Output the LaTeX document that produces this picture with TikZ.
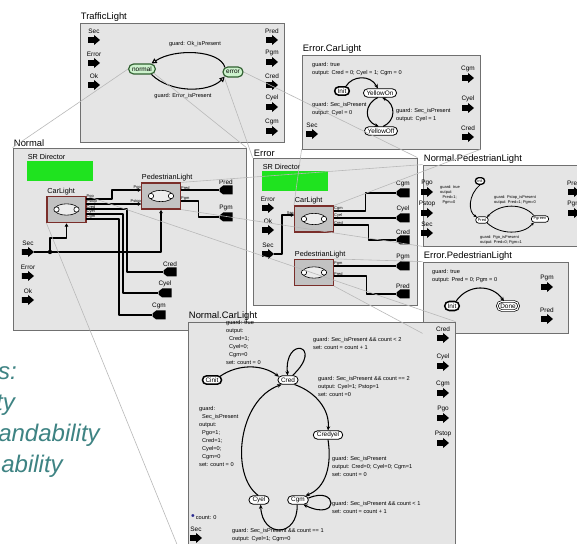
\documentclass[tikz,border=0pt]{standalone}
\usepackage{fontspec}
\setmainfont{Liberation Sans}
\usepackage{tikz}
\usetikzlibrary{arrows.meta,shapes.misc}
\definecolor{panelfill}{HTML}{E5E5E5}
\definecolor{panelline}{HTML}{707070}
\definecolor{actorfill}{HTML}{C2C2C2}
\definecolor{actorline}{HTML}{7A2E2A}
\definecolor{srgreen}{HTML}{1FE31F}
\definecolor{modefill}{HTML}{CDF2CD}
\definecolor{modeline}{HTML}{2F5F2F}
\definecolor{ghost}{HTML}{B8B8B8}
\definecolor{noteteal}{HTML}{3E8383}
\definecolor{countblue}{HTML}{2A2A90}
\newcommand{\fTitle}{\fontsize{8}{9.6}\selectfont}
\newcommand{\fAct}{\fontsize{6.2}{7}\selectfont}
\newcommand{\fPort}{\fontsize{5.5}{6.5}\selectfont}
\newcommand{\fState}{\fontsize{5.5}{6.5}\selectfont}
\newcommand{\fGuard}{\fontsize{4.8}{6.8}\selectfont}
\newcommand{\fTiny}{\fontsize{3.4}{4.3}\selectfont}
\newcommand{\fNote}{\fontsize{20.5}{26}\selectfont\itshape}

\begin{document}
\begin{tikzpicture}[x=0.03cm, y=-0.03cm, >={Stealth[length=3.6pt, width=3.2pt]},
  panel/.style={draw=panelline, fill=panelfill, line width=0.7pt, inner sep=0pt},
  ttl/.style={font=\fTitle, anchor=south west, inner sep=1pt},
  alab/.style={font=\fAct, anchor=south west, inner sep=0.7pt},
  plab/.style={font=\fPort, inner sep=0.7pt},
  tlab/.style={font=\fTiny, inner sep=0.4pt},
  grd/.style={font=\fGuard, anchor=north west, align=left, inner sep=0pt},
  sgrd/.style={grd, font=\fTiny},
  inport/.style={minimum width=0.36cm, minimum height=0.3cm, inner sep=0pt, label={[plab]above:#1},
    path picture={\fill ([yshift=2.4pt]path picture bounding box.west) -- ([shift={(5.2pt,2.4pt)}]path picture bounding box.west) -- ([xshift=5.2pt]path picture bounding box.north west) -- (path picture bounding box.east) -- ([xshift=5.2pt]path picture bounding box.south west) -- ([shift={(5.2pt,-2.4pt)}]path picture bounding box.west) -- ([yshift=-2.4pt]path picture bounding box.west) -- cycle;}},
  outport/.style={minimum width=0.39cm, minimum height=0.27cm, inner sep=0pt, label={[plab]above:#1},
    path picture={\fill ([yshift=1.3pt]path picture bounding box.west) -- ([xshift=3.2pt]path picture bounding box.north west) -- (path picture bounding box.north east) -- (path picture bounding box.south east) -- ([xshift=3.2pt]path picture bounding box.south west) -- ([yshift=-1.3pt]path picture bounding box.west) -- cycle;}},
  actor/.style={draw=actorline, fill=actorfill, line width=1pt, minimum width=1.17cm, minimum height=0.78cm, inner sep=0pt},
  sr/.style={fill=srgreen, minimum width=1.98cm, minimum height=0.6cm, inner sep=0pt},
  wire/.style={line width=1.3pt, line join=round},
  intip/.style={-{Latex[length=3pt, width=3.4pt]}},
  modestate/.style={rounded rectangle, draw=modeline, fill=modefill, line width=1pt, font=\fState, inner xsep=2.5pt, inner ysep=1pt, minimum height=0.3cm},
  state/.style={rounded rectangle, draw, fill=white, line width=0.7pt, font=\fState, inner xsep=2pt, inner ysep=0.6pt, minimum height=0.25cm},
  firststate/.style={state, line width=1.3pt},
  laststate/.style={state, double, double distance=0.9pt, line width=0.6pt},
  sstate/.style={state, font=\fTiny, line width=0.6pt, minimum height=0.2cm, inner xsep=1.5pt},
  sfirst/.style={sstate, line width=1.1pt},
  trans/.style={line width=0.9pt, ->},
  strans/.style={line width=0.7pt, -{Stealth[length=2.6pt, width=2.4pt]}},
  tltrans/.style={line width=0.9pt, -{Triangle[open, length=4.5pt, width=4.5pt]}},
  ghostln/.style={draw=ghost, line width=0.5pt},
  note/.style={font=\fNote, text=noteteal, anchor=base east, inner sep=0pt}]
\useasboundingbox (0,0) rectangle (577,544);
\clip (0,0) rectangle (577,544);
\fill[white] (0,0) rectangle (577,544);

% panels
\node[panel, minimum width=6.12cm, minimum height=3.57cm] (tl) at (182,82.5) {};
\node[panel, minimum width=5.34cm, minimum height=2.82cm] (ecl) at (391,102) {};
\node[panel, minimum width=6.99cm, minimum height=5.46cm] (nm) at (129.5,239) {};
\node[panel, minimum width=4.92cm, minimum height=4.41cm] (er) at (335,231.5) {};
\node[panel, minimum width=5.31cm, minimum height=2.43cm] (npl) at (511.5,205.5) {};
\node[panel, minimum width=4.35cm, minimum height=2.13cm] (epl) at (495.5,297.5) {};
\node[panel, minimum width=8.01cm, minimum height=7.44cm] (ncl) at (321.5,446) {};
\foreach \p/\t in {tl/TrafficLight, ecl/Error.CarLight, nm/Normal, er/Error, npl/Normal.PedestrianLight, epl/Error.PedestrianLight, ncl/Normal.CarLight}
  \node[ttl] (\p-t) at (\p.north west) {\t};

% TrafficLight
\foreach \n/\y in {Sec/40, Error/63, Ok/85}
  \node[inport=\n] (tl-\n) at (94,\y) {};
\foreach \n/\y in {Pred/40, Pgm/62, Cred/85, Cyel/107, Cgm/131}
  \node[inport=\n] (tl-\n) at (272,\y) {};
\node[modestate] (tl-normal) at (142,69) {normal};
\node[modestate] (tl-error) at (233,72) {error};
\draw[tltrans] (tl-error.150) .. controls (220,50) and (175,48) .. (tl-normal.30);
\draw[tltrans] (tl-normal.-30) .. controls (170,93) and (208,93) .. (tl-error.-150);
\node[grd, anchor=center] (tl-g1) at (195,44) {guard: Ok\_isPresent};
\node[grd, anchor=center] (tl-g2) at (183,96) {guard: Error\_isPresent};

% Error.CarLight
\node[inport=Sec] (ecl-Sec) at (312,134) {};
\foreach \n/\y in {Cgm/78, Cyel/108, Cred/137}
  \node[inport=\n] (ecl-\n) at (468,\y) {};
\node[firststate] (ecl-init) at (342,91) {Init};
\node[state] (ecl-on) at (380,93) {YellowOn};
\node[state] (ecl-off) at (381,131) {YellowOff};
\draw[trans] (ecl-init.50) .. controls (352,76) and (370,74) .. (ecl-on.115);
\draw[trans] (ecl-on.-115) .. controls (364,104) and (364,121) .. (ecl-off.115);
\draw[trans] (ecl-off.65) .. controls (396,121) and (396,104) .. (ecl-on.-65);
\node[grd] (ecl-g1) at (312,62) {guard: true\\output: Cred = 0; Cyel = 1; Cgm = 0};
\node[grd] (ecl-g2) at (312,102) {guard: Sec\_isPresent\\output: Cyel = 0};
\node[grd] (ecl-g3) at (396,108) {guard: Sec\_isPresent\\output: Cyel = 1};

% Normal
\node[sr] (nm-sr) at (60,171) {};
\node[alab] (nm-sr-l) at (nm-sr.north west) {SR Director};
\node[actor] (n-car) at (66.5,209.5) {};
\node[actor] (n-ped) at (161,196) {};
\node[alab] (n-car-l) at (n-car.north west) {CarLight};
\node[alab] (n-ped-l) at (n-ped.north west) {PedestrianLight};
\foreach \n/\y in {Sec/252, Error/276, Ok/300}
  \node[inport=\n] (n-\n) at (28,\y) {};
\foreach \n/\x/\y in {Pred/226/190, Pgm/226/217, Cred/170/272, Cyel/165/293, Cgm/159/315}
  \node[outport=\n] (n-\n) at (\x,\y) {};
\foreach \p/\t/\y in {pgo/Pgo/199, pstop/Pstop/204, cred/Cred/209, cyel/Cyel/214, cgm/Cgm/219}
  \coordinate[label={[tlab, anchor=south west]right:\t}] (n-car-\p) at (86,\y);
\foreach \p/\t/\y in {pgo/Pgo/190, pstop/Pstop/204}
  \coordinate[label={[tlab, anchor=south east]left:\t}] (n-ped-\p) at (141.5,\y);
\foreach \p/\t/\y in {pred/Pred/190, pgm/Pgm/201}
  \coordinate[label={[tlab, anchor=south west]right:\t}] (n-ped-\p) at (180.5,\y);
\node[circle, fill=black, inner sep=0pt, minimum size=0.13cm] (n-jct) at (50,252) {};
\draw[wire, intip] (n-car-pgo) -- ++(26,0) |- (n-ped-pgo);
\draw[wire, intip] (n-car-pstop) -- (n-ped-pstop);
\draw[wire] (n-ped-pred) -- (n-Pred.west);
\draw[wire] (n-ped-pgm) -- ++(18,0) |- (n-Pgm.west);
\foreach \p/\n/\d in {cred/Cred/41, cyel/Cyel/37, cgm/Cgm/33}
  \draw[wire] (n-car-\p) -- ++(\d,0) |- (n-\n.west);
\draw[wire, intip] (n-Sec.east) -- (n-jct) -| (n-ped.south);
\draw[wire, intip] (n-jct) -- ++(0,-14) -| (n-car.south);

% Error
\node[sr] (er-sr) at (295,181) {};
\node[alab] (er-sr-l) at (er-sr.north west) {SR Director};
\node[actor] (e-car) at (314,219) {};
\node[actor] (e-ped) at (314,272.5) {};
\node[alab] (e-car-l) at (e-car.north west) {CarLight};
\node[alab] (e-ped-l) at (e-ped.north west) {PedestrianLight};
\foreach \n/\y in {Error/208, Ok/230, Sec/254}
  \node[inport=\n] (e-\n) at (268,\y) {};
\foreach \n/\y in {Cgm/193, Cyel/218, Cred/240, Pgm/266, Pred/294}
  \node[outport=\n] (e-\n) at (403,\y) {};
\coordinate[label={[tlab, anchor=south east]left:Sec}] (e-car-sec) at (294.5,215);
\foreach \p/\t/\y in {cgm/Cgm/211, cyel/Cyel/218, cred/Cred/225}
  \coordinate[label={[tlab, anchor=south west]right:\t}] (e-car-\p) at (333.5,\y);
\foreach \p/\t/\y in {pgm/Pgm/266, pred/Pred/276}
  \coordinate[label={[tlab, anchor=south west]right:\t}] (e-ped-\p) at (333.5,\y);
\draw[wire, intip] (e-Sec.east) -- ++(8,0) |- (e-car-sec);
\draw[wire] (e-car-cgm) -- ++(32,0) |- (e-Cgm.west);
\draw[wire] (e-car-cyel) -- (e-Cyel.west);
\draw[wire] (e-car-cred) -- ++(35,0) |- (e-Cred.west);
\draw[wire] (e-ped-pgm) -- (e-Pgm.west);
\draw[wire] (e-ped-pred) -- ++(33,0) |- (e-Pred.west);

% actor icons
\foreach \a in {n-car, n-ped, e-car, e-ped} {
  \draw[shift={(\a.center)}, fill=gray!15, line width=0.5pt] (0,0) ellipse [x radius=0.36cm, y radius=0.17cm];
  \draw[shift={(\a.center)}, fill=white, line width=0.5pt] (-10,0) circle [radius=0.08cm] (10,0) circle [radius=0.08cm];
}

% Normal.PedestrianLight
\foreach \n/\y in {Pgo/192, Pstop/213, Sec/233}
  \node[inport=\n] (npl-\n) at (427,\y) {};
\foreach \n/\y in {Pred/192, Pgm/213}
  \node[inport=\n] (npl-\n) at (574,\y) {};
\node[sfirst] (npl-init) at (480,181) {init};
\node[sstate] (npl-pred) at (482,220) {Pred};
\node[sstate] (npl-pgreen) at (540,219) {Pgreen};
\draw[strans] (npl-init.-90) .. controls (468,195) and (468,212) .. (npl-pred.150);
\draw[strans] (npl-pgreen.150) .. controls (523,203) and (500,203) .. (npl-pred.30);
\draw[strans] (npl-pred.-30) .. controls (500,235) and (523,235) .. (npl-pgreen.-150);
\node[sgrd] (npl-g1) at (440,185) {guard: true\\output:\\\hspace*{2pt}Pred=1;\\\hspace*{2pt}Pgm=0};
\node[sgrd] (npl-g2) at (494,195) {guard: Pstop\_isPresent\\output: Pred=1; Pgm=0};
\node[sgrd] (npl-g3) at (480,235) {guard: Pgo\_isPresent\\output: Pred=0; Pgm=1};

% Error.PedestrianLight
\foreach \n/\y in {Pgm/287, Pred/319}
  \node[inport=\n] (epl-\n) at (547,\y) {};
\node[firststate, minimum height=0.27cm] (epl-init) at (452,306) {Init};
\node[laststate, minimum height=0.27cm] (epl-done) at (508,306) {Done};
\draw[trans] (epl-init.50) .. controls (468,284) and (492,284) .. (epl-done.130);
\node[grd] (epl-g1) at (432,269) {guard: true\\output: Pred = 0; Pgm = 0};

% Normal.CarLight
\foreach \n/\y in {Cred/338, Cyel/366, Cgm/393, Pgo/418, Pstop/443}
  \node[inport=\n] (ncl-\n) at (443,\y) {};
\node[inport=Sec] (ncl-Sec) at (196,538) {};
\node[firststate] (ncl-init) at (212,380) {Cinit};
\node[state] (ncl-red) at (288,380) {Cred};
\node[state] (ncl-redyel) at (328,435) {Credyel};
\node[state] (ncl-gm) at (298,500) {Cgm};
\node[state] (ncl-yel) at (259,500) {Cyel};
\draw[trans] (ncl-init.25) .. controls (238,364) and (262,364) .. (ncl-red.160);
\draw[trans] (ncl-red.45) .. controls (325,345) and (284,335) .. (ncl-red.95);
\draw[trans] (ncl-red.-35) .. controls (316,392) and (330,410) .. (ncl-redyel.90);
\draw[trans] (ncl-redyel.-90) .. controls (332,465) and (326,488) .. (ncl-gm.30);
\draw[trans] (ncl-gm.10) .. controls (338,485) and (340,522) .. (ncl-gm.-40);
\draw[trans] (ncl-gm.-100) .. controls (298,538) and (262,538) .. (ncl-yel.-70);
\draw[trans] (ncl-yel.100) .. controls (230,475) and (238,400) .. (ncl-red.-145);
\node[grd] (ncl-g1) at (226,320) {guard: true\\output:\\\hspace*{2.5pt}Cred=1;\\\hspace*{2.5pt}Cyel=0;\\\hspace*{2.5pt}Cgm=0\\set: count = 0};
\node[grd] (ncl-g2) at (313,337) {guard: Sec\_isPresent \&\& count < 2\\set: count = count + 1};
\node[grd] (ncl-g3) at (318,376) {guard: Sec\_isPresent \&\& count == 2\\output: Cyel=1; Pstop=1\\set: count =0};
\node[grd] (ncl-g4) at (332,456) {guard: Sec\_isPresent\\output: Cred=0; Cyel=0; Cgm=1\\set: count = 0};
\node[grd] (ncl-g5) at (332,501) {guard: Sec\_isPresent \&\& count < 1\\set: count = count + 1};
\node[grd] (ncl-g6) at (232,528) {guard: Sec\_isPresent \&\& count == 1\\output: Cyel=1; Cgm=0};
\node[grd] (ncl-g7) at (199,406) {guard:\\\hspace*{2.5pt}Sec\_isPresent\\output:\\\hspace*{2.5pt}Pgo=1;\\\hspace*{2.5pt}Cred=1;\\\hspace*{2.5pt}Cyel=0;\\\hspace*{2.5pt}Cgm=0\\set: count = 0};
\node[grd, anchor=west] (ncl-count) at (191,517) {\textcolor{countblue}{\fontsize{9}{9}\selectfont\textbullet}\,count: 0};

% notes on the left
\node[note] (note1) at (17,380) {s:};
\node[note] (note2) at (15,411) {ty};
\node[note] (note3) at (100,442) {andability};
\node[note] (note4) at (63,473) {ability};

% refinement lines
\draw[ghostln] (tl-normal.west) -- (nm.north west);
\draw[ghostln] (tl-normal.-20) -- (nm.north east);
\draw[ghostln] (tl-error.east) -- (er.north east);
\draw[ghostln] (tl-error.-160) -- (er.north west);
\draw[ghostln] (n-car.south west) -- (ncl.south west);
\draw[ghostln] (n-car.north east) -- (ncl.north east);
\draw[ghostln] (n-ped.north east) -- (npl.north west);
\draw[ghostln] (n-ped.south east) -- (npl.south west);
\draw[ghostln] (e-car.north west) -- (ecl.south west);
\draw[ghostln] (e-car.north east) -- (ecl.south east);
\draw[ghostln] (e-ped.north east) -- (epl.north west);
\draw[ghostln] (e-ped.south east) -- (epl.south west);
\end{tikzpicture}
\end{document}
